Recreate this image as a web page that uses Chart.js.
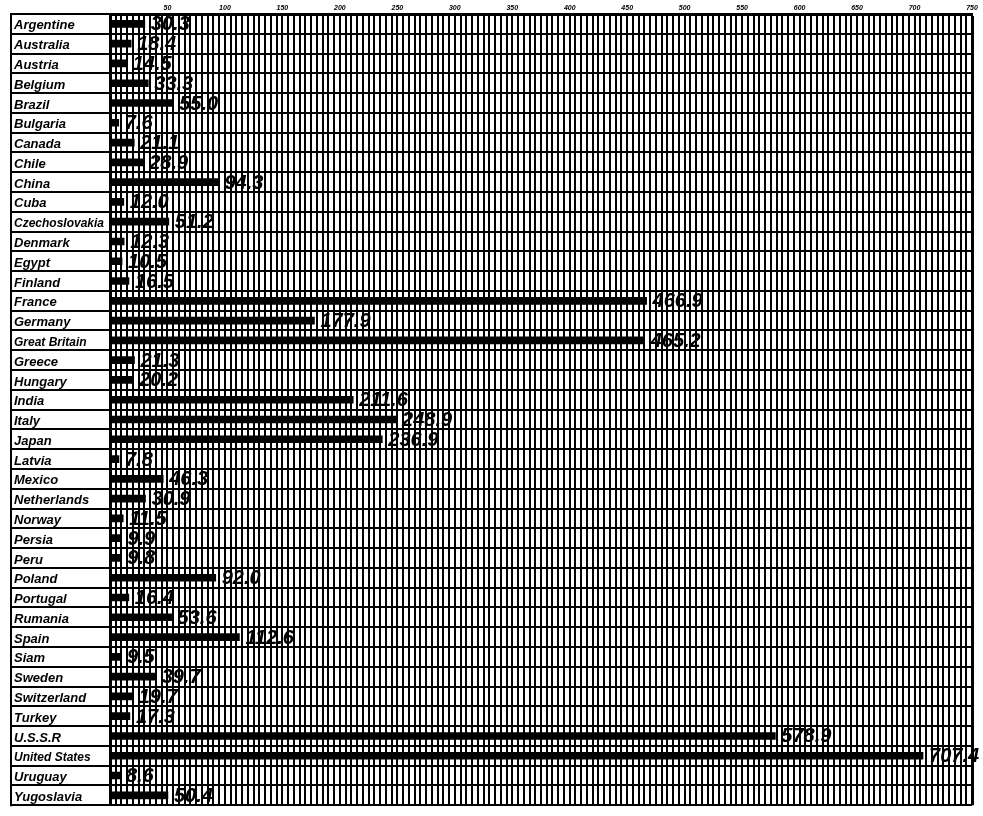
<!DOCTYPE html>
<html>
<head>
<meta charset="utf-8">
<script src="https://cdn.jsdelivr.net/npm/chart.js@4.4.1/dist/chart.umd.min.js"></script>
<style>
  html, body { margin: 0; padding: 0; background: #fff; }
  #wrap { width: 983px; height: 816px; position: relative; }
</style>
</head>
<body>
<div id="wrap"><canvas id="c" width="983" height="816"></canvas></div>
<script>
const countries = ["Argentine", "Australia", "Austria", "Belgium", "Brazil", "Bulgaria", "Canada", "Chile", "China", "Cuba", "Czechoslovakia", "Denmark", "Egypt", "Finland", "France", "Germany", "Great Britain", "Greece", "Hungary", "India", "Italy", "Japan", "Latvia", "Mexico", "Netherlands", "Norway", "Persia", "Peru", "Poland", "Portugal", "Rumania", "Spain", "Siam", "Sweden", "Switzerland", "Turkey", "U.S.S.R", "United States", "Uruguay", "Yugoslavia"];
const values = [30.3, 18.4, 14.5, 33.3, 55.0, 7.6, 21.1, 28.9, 94.3, 12.0, 51.2, 12.3, 10.5, 16.5, 466.9, 177.9, 465.2, 21.3, 20.2, 211.6, 248.9, 236.9, 7.8, 46.3, 30.9, 11.5, 9.9, 9.8, 92.0, 16.4, 53.6, 112.6, 9.5, 39.7, 19.7, 17.3, 578.9, 707.4, 8.6, 50.4];
const tickLabels = [50, 100, 150, 200, 250, 300, 350, 400, 450, 500, 550, 600, 650, 700, 750];
const axisMax = 750;
const gridStep = 5;

const valueLabelPlugin = {
  id: 'valueLabels',
  afterDatasetsDraw(chart) {
    const ctx = chart.ctx;
    const meta = chart.getDatasetMeta(0);
    ctx.save();
    ctx.fillStyle = '#000';
    ctx.font = 'italic bold 20px "Liberation Sans", Arial, sans-serif';
    ctx.textAlign = 'left';
    ctx.textBaseline = 'middle';
    meta.data.forEach((bar, i) => {
      ctx.fillText(values[i].toFixed(1), bar.x + 6, bar.y + 1);
    });
    ctx.restore();
  }
};

const framePlugin = {
  id: 'labelFrame',
  afterDraw(chart) {
    const ctx = chart.ctx;
    ctx.save();
    ctx.strokeStyle = '#000';
    ctx.lineWidth = 2;
    ctx.beginPath();
    ctx.moveTo(11, chart.chartArea.top - 1);
    ctx.lineTo(11, chart.chartArea.bottom + 1);
    ctx.stroke();
    ctx.restore();
  }
};

new Chart(document.getElementById('c'), {
  type: 'bar',
  data: {
    labels: countries,
    datasets: [{
      data: values,
      backgroundColor: '#000',
      borderWidth: 0,
      barThickness: 7
    }]
  },
  plugins: [valueLabelPlugin, framePlugin],
  options: {
    indexAxis: 'y',
    responsive: false,
    animation: false,
    devicePixelRatio: 1,
    layout: { padding: { left: 14, right: 11, top: 0, bottom: 8 } },
    plugins: { legend: { display: false }, tooltip: { enabled: false } },
    scales: {
      x: {
        position: 'top',
        min: 0,
        max: axisMax,
        afterFit(scale) { scale.height = 14; },
        ticks: {
          stepSize: gridStep,
          autoSkip: false,
          maxRotation: 0,
          minRotation: 0,
          padding: 2,
          color: '#000',
          font: { family: '"Liberation Sans", sans-serif', size: 7, style: 'italic', weight: 'bold' },
          callback(v) { return tickLabels.includes(v) ? String(v) : ''; }
        },
        grid: {
          color: '#000',
          drawTicks: false,
          lineWidth(ctx) { return ctx.tick && ctx.tick.value === axisMax ? 3 : 2; }
        },
        border: { display: true, color: '#000', width: 3 }
      },
      y: {
        position: 'left',
        afterFit(scale) { scale.width = 96; },
        ticks: {
          crossAlign: 'far',
          autoSkip: false,
          labelOffset: 2,
          color: '#000',
          font(ctx) {
            const lbl = countries[ctx.index] || '';
            return { family: '"Liberation Sans", sans-serif', size: lbl.length > 12 ? 12 : 13, style: 'italic', weight: 'bold' };
          }
        },
        grid: {
          color: '#000',
          lineWidth: 2,
          drawTicks: true,
          tickLength: 100,
          offset: true
        },
        border: { display: true, color: '#000', width: 3 }
      }
    }
  }
});
</script>
</body>
</html>
